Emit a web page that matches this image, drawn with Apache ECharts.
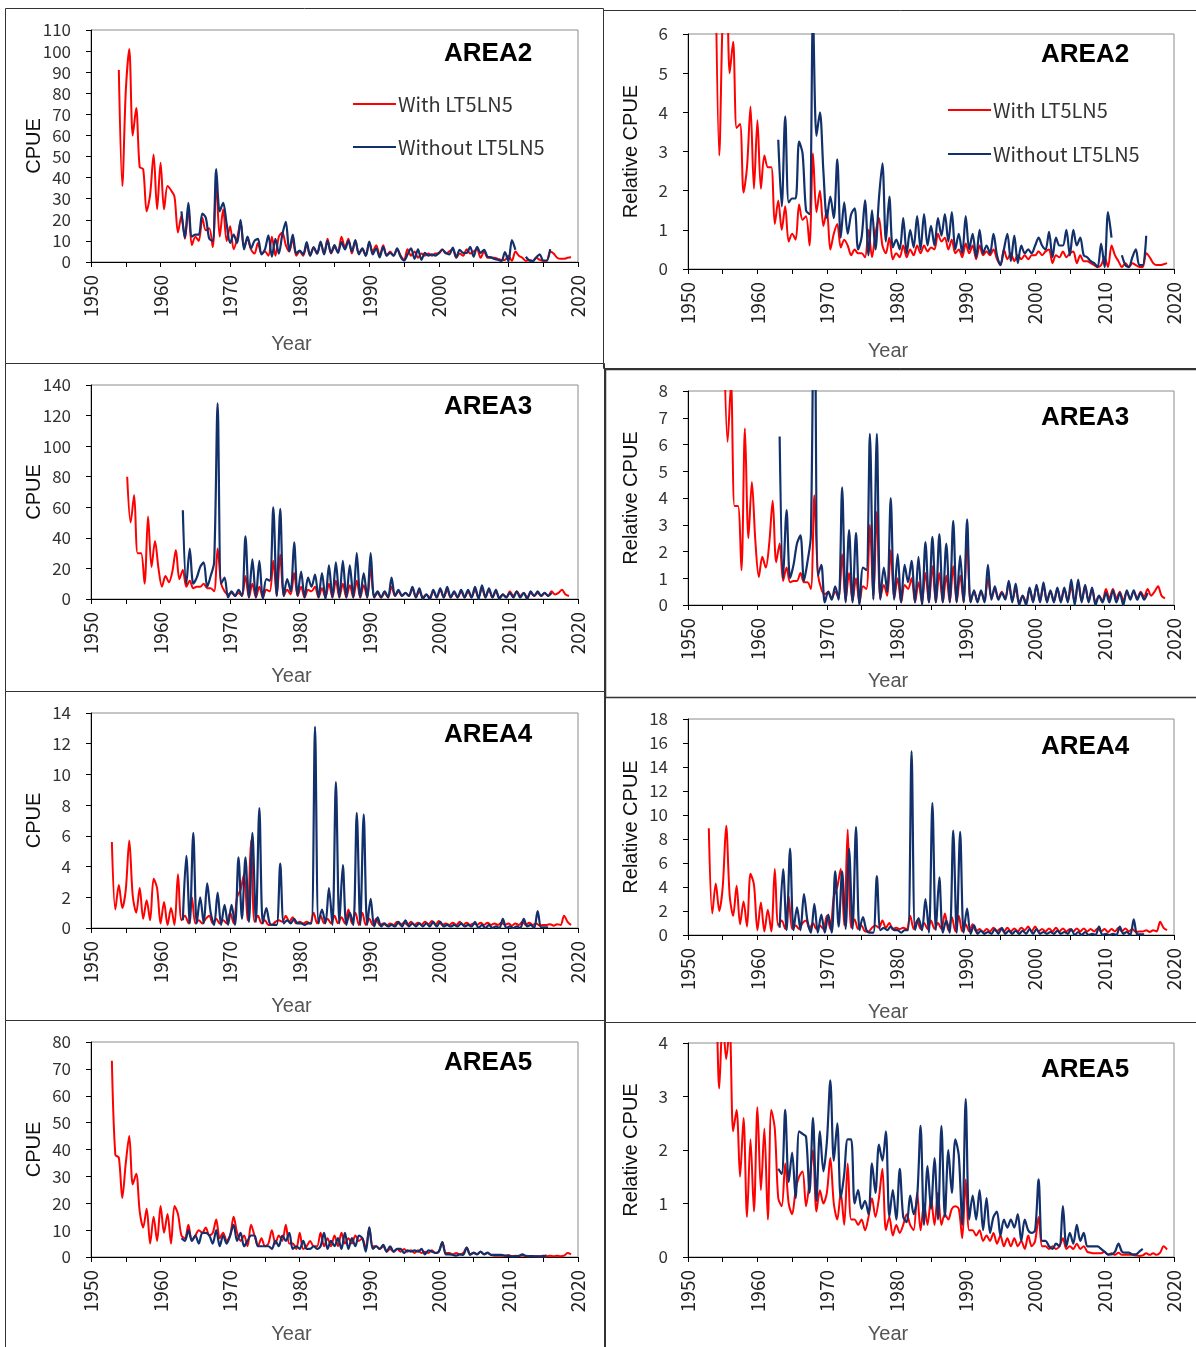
<!DOCTYPE html>
<html>
<head>
<meta charset="utf-8">
<script src="https://cdn.jsdelivr.net/npm/echarts@6/dist/echarts.min.js"></script>
<style>
html,body{margin:0;padding:0;background:#fff;}
#chart{width:1196px;height:1347px;}
</style>
</head>
<body>
<div id="chart"></div>
<script>
// ---------------- DATA (half-year steps; each array starts at its *Start year) ----------------
const seriesNames = ['With LT5LN5', 'Without LT5LN5'];
const xTickLabels = [1950, 1960, 1970, 1980, 1990, 2000, 2010, 2020];
const STEP = 0.5;

// AREA2 CPUE
const a2CpueRedStart = 1954;
const a2CpueRed = [
  91,36, 81,101, 60,73, 45,44, 24,32,          // 1954-1958
  51,25, 47,25, 36,34, 31,14, 22,11,           // 1959-1963
  25,8, 12,10, 21,15, 16,7, 37,12,             // 1964-1968
  25,10, 17,6, 11,19, 7,11, 6,4,               // 1969-1973
  9,4, 5,3, 12,3, 12,14, 8,5,                  // 1974-1978
  11,3, 5,3, 8,3, 7,4, 9,4,                    // 1979-1983
  11,4, 7,5, 12,7, 11,4, 10,4,                 // 1984-1988
  6,3, 9,5, 8,3, 8,3, 5,3,                     // 1989-1993
  6,3, 1,6, 3,5, 2,4, 3,4,                     // 1994-1998
  3,4, 4,6, 4,5, 6,2, 4,3,                     // 1999-2003
  6,4, 5,6, 2,5, 2,2, 2,1.5,                   // 2004-2008
  1,1, 3,0.5, 5,3, 2,0.5, 1,0.5,               // 2009-2013
  2,1, 0.5,0.5, 5,4, 2,1.5, 1.5,2,             // 2014-2018
  2.2                                          // 2019
];
const a2CpueBlueStart = 1963;
const a2CpueBlue = [
  24,11.5, 28,12, 13,13, 23,21, 11,10,         // 1963-1967
  44,24, 28,18, 9,13, 9,20, 6,12,              // 1968-1972
  6.5,10, 11,3.6, 6,12.6, 2.5,11, 4,13,        // 1973-1977
  19,5, 13,4, 5.4,3.6, 9.4,3, 7,4,             // 1978-1982
  9.7,3.6, 10,4.3, 8,4.3, 9.4,6, 10,5,         // 1983-1987
  10.4,3.6, 6.5,3, 9.7,3.6, 6.5,2.2, 7.2,3,    // 1988-1992
  4.3,3, 6.5,2.5, 0.7,3.6, 6.5,1.5, 6,1,       // 1993-1997
  4.3,3, 3.6,3, 4.3,5.8, 4.3,3.6, 6.8,2.2,     // 1998-2002
  5.8,4.3, 4.3,7.2, 2.5,7.2, 4.3,5.8, 2.5,2.2, // 2003-2007
  1.4,1.1, 0.4,4.7, 0.4,10.4, 5.8,null, null,2.5, // 2008-2012
  0.7,0.4, 2.2,3.6, 0.7,0.7, 6.1               // 2013-2016
];

// AREA2 relative CPUE
const a2RelRedStart = 1954;
const a2RelRed = [
  7.2,2.9, 6.5,8.0, 5.0,5.8, 3.6,3.7, 1.95,2.6,        // 1954-1958
  4.15,2.05, 3.8,2.05, 2.9,2.6, 2.6,1.15, 1.75,1.0,    // 1959-1963
  1.6,0.7, 0.9,0.75, 1.65,1.25, 1.35,0.6, 2.95,1.45,   // 1964-1968
  2.0,1.1, 1.5,0.5, 0.9,1.15, 0.55,0.75, 0.6,0.35,     // 1969-1973
  0.5,0.4, 0.4,0.3, 1.0,0.3, 0.9,1.3, 0.6,0.4,         // 1974-1978
  0.8,0.25, 0.4,0.3, 0.6,0.3, 0.5,0.35, 0.6,0.4,       // 1979-1983
  0.6,0.45, 0.55,0.5, 0.9,0.7, 0.8,0.5, 0.75,0.4,      // 1984-1988
  0.5,0.3, 0.65,0.4, 0.6,0.25, 0.6,0.35, 0.45,0.35,    // 1989-1993
  0.5,0.25, 0.1,0.5, 0.25,0.4, 0.2,0.35, 0.25,0.35,    // 1994-1998
  0.25,0.35, 0.35,0.45, 0.35,0.45, 0.5,0.15, 0.35,0.3, // 1999-2003
  0.45,0.3, 0.4,0.45, 0.15,0.35, 0.2,0.2, 0.15,0.1,    // 2004-2008
  0.05,0.1, 0.3,0.05, 0.6,0.35, 0.2,0.05, 0.15,0.05,   // 2009-2013
  0.15,0.1, 0.05,0.05, 0.4,0.3, 0.15,0.1, 0.1,0.12,    // 2014-2018
  0.15                                                 // 2019
];
const a2RelBlueStart = 1963;
const a2RelBlue = [
  3.3,1.6, 3.9,1.7, 1.8,1.8, 3.25,2.95, 1.5,1.4,       // 1963-1967
  6.5,3.4, 4.0,2.5, 1.3,1.85, 1.3,2.8, 0.8,1.7,        // 1968-1972
  0.9,1.4, 1.55,0.5, 0.8,1.75, 0.35,1.5, 0.5,1.8,      // 1973-1977
  2.7,0.7, 1.85,0.55, 0.75,0.5, 1.3,0.4, 1.0,0.55,     // 1978-1982
  1.35,0.5, 1.4,0.6, 1.1,0.6, 1.3,0.85, 1.4,0.7,       // 1983-1987
  1.45,0.5, 0.9,0.4, 1.35,0.5, 0.9,0.3, 1.0,0.4,       // 1988-1992
  0.6,0.4, 0.9,0.35, 0.1,0.5, 0.9,0.2, 0.85,0.15,      // 1993-1997
  0.6,0.4, 0.5,0.4, 0.6,0.8, 0.6,0.5, 0.95,0.3,        // 1998-2002
  0.8,0.6, 0.6,1.0, 0.35,1.0, 0.6,0.8, 0.35,0.3,       // 2003-2007
  0.2,0.15, 0.05,0.65, 0.05,1.45, 0.8,null, null,0.35, // 2008-2012
  0.1,0.05, 0.3,0.5, 0.1,0.1, 0.85                     // 2013-2016
];

// AREA3 CPUE
const a3CpueRedStart = 1955.2;
const a3CpueRed = [
  80,50, 68,30, 30,10, 54,21, 38,20,       // 1955-1959
  8,15, 11,18, 32,13, 19,8, 12,7,          // 1960-1964
  8,8, 10,7, 7,5, 33,10, 5,3,              // 1965-1969
  4,2, 4,2, 15,1, 10,1, 8,1,               // 1970-1974
  6,5, 25,2, 29,2, 6,3, 17,2,              // 1975-1979
  8,1, 6,5, 8,1, 7,1, 10,1,                // 1980-1984
  12,1, 10,1, 9,1, 12,1, 9,1,              // 1985-1989
  20,1, 4,1, 4,1, 8,2, 5,2,                // 1990-1994
  4,2, 7,1, 5,1, 3,1, 5,1,                 // 1995-1999
  6,1, 6,1, 4,1, 5,1, 5,1,                 // 2000-2004
  6,1, 7,1, 6,1, 5,1, 3,1,                 // 2005-2009
  5,2, 5,2, 4,1, 4,2, 4,2,                 // 2010-2014
  4,2, 5,3, 4,6, 3,2                       // 2015-2018
];
const a3CpueBlueStart = 1963.2;
const a3CpueBlue = [
  58,10, 33,10, 14,21, 24,8, 15,24,        // 1963-1967
  128,10, 14,1, 5,2, 6,2, 41,1,            // 1968-1972
  26,1, 25,0, 13,12, 60,2, 59,2,           // 1973-1977
  13,5, 37,2, 18,1, 14,8, 16,1,            // 1978-1982
  17,0, 22,1, 24,1, 25,1, 22,1,            // 1983-1987
  30,1, 17,1, 30,1, 5,1, 5,1,              // 1988-1992
  14,2, 6,2, 4,2, 8,1, 7,0,                // 1993-1997
  3,0, 6,1, 7,1, 8,1, 5,1,                 // 1998-2002
  6,1, 6,1, 8,0, 9,1, 7,1,                 // 2003-2007
  6,0, 3,1, 4,1, 5,1, 4,0,                 // 2008-2012
  5,2, 5,2, 4,2, 4                         // 2013-2016
];

// AREA3 relative CPUE
const a3RelRedStart = 1955.2;
const a3RelRed = [
  9.8,6.1, 8.3,3.7, 3.7,1.3, 6.6,2.5, 4.6,2.4,         // 1955-1959
  1.05,1.8, 1.4,2.3, 3.9,1.6, 2.3,0.9, 1.4,0.85,       // 1960-1964
  0.9,0.9, 1.2,0.85, 0.85,0.6, 4.1,1.2, 0.6,0.4,       // 1965-1969
  0.5,0.25, 0.5,0.25, 1.9,0.15, 1.2,0.15, 1.0,0.1,     // 1970-1974
  0.7,0.6, 3.0,0.25, 3.5,0.25, 0.75,0.35, 2.05,0.25,   // 1975-1979
  1.0,0.1, 0.75,0.6, 1.0,0.1, 0.85,0.1, 1.2,0.1,       // 1980-1984
  1.45,0.1, 1.2,0.1, 1.1,0.1, 1.45,0.1, 1.1,0.1,       // 1985-1989
  2.5,0.1, 0.5,0.15, 0.5,0.15, 1.0,0.25, 0.6,0.25,     // 1990-1994
  0.5,0.25, 0.85,0.15, 0.6,0.1, 0.35,0.1, 0.6,0.15,    // 1995-1999
  0.7,0.15, 0.7,0.15, 0.5,0.15, 0.6,0.15, 0.6,0.15,    // 2000-2004
  0.7,0.1, 0.85,0.15, 0.7,0.15, 0.6,0.1, 0.35,0.15,    // 2005-2009
  0.6,0.25, 0.6,0.25, 0.5,0.15, 0.5,0.25, 0.5,0.25,    // 2010-2014
  0.5,0.3, 0.6,0.35, 0.5,0.7, 0.35,0.25                // 2015-2018
];
const a3RelBlueStart = 1963.2;
const a3RelBlue = [
  6.3,1.0, 3.55,1.0, 1.5,2.3, 2.6,0.9, 1.6,2.6,        // 1963-1967
  13.8,1.1, 1.5,0.1, 0.5,0.2, 0.7,0.2, 4.4,0.1,        // 1968-1972
  2.8,0.1, 2.7,0.0, 1.4,1.3, 6.4,0.2, 6.4,0.2,         // 1973-1977
  1.4,0.5, 4.0,0.2, 1.9,0.1, 1.5,0.85, 1.65,0.1,       // 1978-1982
  1.8,0.0, 2.35,0.1, 2.55,0.1, 2.65,0.1, 2.3,0.1,      // 1983-1987
  3.15,0.1, 1.85,0.1, 3.2,0.1, 0.55,0.1, 0.55,0.1,     // 1988-1992
  1.5,0.2, 0.7,0.2, 0.45,0.2, 0.9,0.1, 0.8,0.0,        // 1993-1997
  0.35,0.0, 0.65,0.1, 0.75,0.1, 0.85,0.1, 0.55,0.1,    // 1998-2002
  0.65,0.1, 0.65,0.1, 0.95,0.0, 0.95,0.1, 0.75,0.1,    // 2003-2007
  0.65,0.0, 0.35,0.1, 0.45,0.1, 0.55,0.1, 0.45,0.0,    // 2008-2012
  0.55,0.2, 0.55,0.2, 0.45,0.2, 0.45                   // 2013-2016
];

// AREA4 CPUE
const a4CpueRedStart = 1953;
const a4CpueRed = [
  5.6,1.2, 2.8,1.3, 2.5,5.7, 2.1,1.0, 2.6,0.6,         // 1953-1957
  1.8,0.5, 3.2,2.6, 0.3,1.7, 0.2,1.3, 0.2,3.5,         // 1958-1962
  0.5,0.8, 0.3,2.0, 0.3,0.5, 0.3,0.6, 0.8,0.3,         // 1963-1967
  0.6,0.3, 0.5,0.3, 1.0,0.3, 2.0,2.5, 3.5,0.5,         // 1968-1972
  5.7,0.4, 0.8,0.3, 0.5,0.2, 0.2,0.4, 0.5,0.4,         // 1973-1977
  0.8,0.4, 0.7,0.3, 0.4,0.3, 0.4,0.3, 1.0,0.3,         // 1978-1982
  0.8,0.3, 0.6,0.3, 0.8,0.3, 0.7,0.3, 1.2,0.3,         // 1983-1987
  1.0,0.2, 1.0,0.2, 0.6,0.2, 0.6,0.2, 0.3,0.15,        // 1988-1992
  0.3,0.2, 0.4,0.2, 0.35,0.2, 0.4,0.2, 0.35,0.2,       // 1993-1997
  0.4,0.25, 0.45,0.2, 0.45,0.2, 0.3,0.2, 0.35,0.2,     // 1998-2002
  0.4,0.2, 0.35,0.2, 0.3,0.2, 0.35,0.2, 0.35,0.2,      // 2003-2007
  0.3,0.2, 0.35,0.2, 0.3,0.15, 0.3,0.2, 0.4,0.2,       // 2008-2012
  0.35,0.2, 0.3,0.15, 0.2,0.2, 0.25,0.15, 0.25,0.2,    // 2013-2017
  0.8,0.4, 0.2                                         // 2018-2019
];
const a4CpueBlueStart = 1963.2;
const a4CpueBlue = [
  0.5,4.7, 0.3,6.2, 0.3,2.0, 0.3,2.9, 1.0,0.2,         // 1963-1967
  2.3,0.2, 1.5,0.2, 1.5,0.2, 4.6,0.6, 4.6,0.4,         // 1968-1972
  6.2,0.4, 7.8,0.3, 1.3,0.3, 0.2,0.2, 4.2,0.3,         // 1973-1977
  0.5,0.3, 0.6,0.3, 0.3,0.2, 0.3,0.3, 13.1,0.3,        // 1978-1982
  1.2,0.3, 2.6,0.2, 9.5,0.3, 4.1,0.2, 1.0,0.2,         // 1983-1987
  7.5,0.2, 7.4,0.2, 1.9,0.1, 0.7,0.1, 0.3,0.1,         // 1988-1992
  0.2,0.1, 0.4,0.1, 0.5,0.1, 0.3,0.1, 0.3,0.1,         // 1993-1997
  0.3,0.1, 0.4,0.1, 0.4,0.1, 0.2,0.1, 0.2,0.1,         // 1998-2002
  0.3,0.1, 0.2,0.1, 0.4,0.0, 0.2,0.0, 0.2,0.0,         // 2003-2007
  0.1,0.0, 0.6,0.0, 0.1,0.0, 0.1,0.0, 0.6,0.1,         // 2008-2012
  0.2,0.0, 1.1,0.05, 0.05,0.05                         // 2013-2015
];

// AREA4 relative CPUE
const a4RelRedStart = 1953;
const a4RelRed = [
  8.9,1.8, 4.3,2.0, 4.0,9.1, 3.3,1.6, 4.1,0.9,         // 1953-1957
  2.8,0.7, 5.1,4.2, 0.4,2.7, 0.3,2.1, 0.3,5.5,         // 1958-1962
  0.8,1.2, 0.5,3.2, 0.5,0.8, 0.5,1.0, 1.2,0.5,         // 1963-1967
  1.0,0.5, 0.8,0.5, 1.6,0.5, 3.2,4.0, 5.5,0.8,         // 1968-1972
  8.8,0.6, 1.3,0.5, 0.8,0.3, 0.3,0.6, 0.8,0.6,         // 1973-1977
  1.2,0.6, 1.0,0.5, 0.6,0.5, 0.6,0.5, 1.6,0.5,         // 1978-1982
  1.2,0.5, 1.0,0.5, 1.2,0.5, 1.0,0.5, 1.8,0.4,         // 1983-1987
  1.5,0.3, 1.6,0.3, 0.9,0.3, 0.9,0.3, 0.5,0.25,        // 1988-1992
  0.5,0.3, 0.6,0.3, 0.55,0.3, 0.6,0.3, 0.55,0.3,       // 1993-1997
  0.6,0.4, 0.7,0.3, 0.7,0.3, 0.5,0.3, 0.55,0.3,        // 1998-2002
  0.6,0.3, 0.55,0.3, 0.5,0.3, 0.55,0.3, 0.55,0.3,      // 2003-2007
  0.5,0.3, 0.55,0.3, 0.5,0.25, 0.5,0.3, 0.6,0.3,       // 2008-2012
  0.55,0.3, 0.5,0.25, 0.3,0.3, 0.4,0.25, 0.4,0.3,      // 2013-2017
  1.1,0.6, 0.4                                         // 2018-2019
];
const a4RelBlueStart = 1963.2;
const a4RelBlue = [
  0.6,5.5, 0.4,7.2, 0.4,2.3, 0.4,3.4, 1.2,0.2,         // 1963-1967
  2.6,0.2, 1.7,0.2, 1.7,0.2, 5.3,0.7, 5.3,0.5,         // 1968-1972
  7.2,0.5, 9.0,0.4, 1.5,0.4, 0.2,0.2, 4.9,0.4,         // 1973-1977
  0.6,0.4, 0.7,0.4, 0.4,0.2, 0.4,0.4, 15.3,0.4,        // 1978-1982
  1.4,0.4, 3.0,0.2, 11.0,0.4, 4.8,0.2, 1.2,0.2,        // 1983-1987
  8.7,0.2, 8.6,0.2, 2.2,0.1, 0.8,0.1, 0.35,0.1,        // 1988-1992
  0.25,0.1, 0.5,0.1, 0.6,0.1, 0.35,0.1, 0.35,0.1,      // 1993-1997
  0.35,0.1, 0.5,0.1, 0.5,0.1, 0.25,0.1, 0.25,0.1,      // 1998-2002
  0.35,0.1, 0.25,0.1, 0.5,0.0, 0.25,0.0, 0.25,0.0,     // 2003-2007
  0.1,0.0, 0.7,0.0, 0.1,0.0, 0.1,0.0, 0.7,0.1,         // 2008-2012
  0.25,0.0, 1.3,0.05, 0.05,0.05                        // 2013-2015
];

// AREA5 CPUE
const a5CpueRedStart = 1953;
const a5CpueRed = [
  73,38, 37,22, 35,45, 27,31, 17,11,       // 1953-1957
  18,5, 15,6, 19,9, 16,5, 19,16,           // 1958-1962
  8,7, 12,6, 8,10, 9,11, 8,9,              // 1963-1967
  14,7, 9,6, 8,15, 9,6, 8,4,               // 1968-1972
  12,8, 4,7, 4,5, 10,5, 8,6,               // 1973-1977
  12,5, 5,3, 9,3, 4,6, 4,4,                // 1978-1982
  9,4, 7,4, 8,4, 9,5, 7,5,                 // 1983-1987
  8,6, 7,3, 11,4, 4,3, 4,2,                // 1988-1992
  3,2, 3,2, 3,2, 2.5,1.5, 2.5,1.5,         // 1993-1997
  2,1.5, 2.5,1.5, 2,5.5, 1.5,1.5, 1,1.5,   // 1998-2002
  1,1.5, 3.5,1, 1.5,1, 2,1, 1.5,0.8,       // 2003-2007
  0.5,0.5, 0.5,0.5, 0.7,0.3, 0.5,0.3, 0.6,0.3, // 2008-2012
  0.3,0.3, 0.3,0.2, 0.2,0.2, 0.5,0.3, 0.5,0.3, // 2013-2017
  0.5,1.5, 1.0                             // 2018-2019
];
const a5CpueBlueStart = 1963;
const a5CpueBlue = [
  7,6, 10,6, 8,5, 9,9, 8,5,                // 1963-1967
  10,4, 8,5, 8,12, 6,9, 4,6,               // 1968-1972
  8,8, 4,4, 4,4, 3,6, 4,8,                 // 1973-1977
  6,9, 3,4, 3,6, 3,3, 4,3,                 // 1978-1982
  4,9, 3,6, 4,7, 3,9, 3,7,                 // 1983-1987
  4,8, 7,2, 11,3, 4,3, 4.5,2,              // 1988-1992
  4,2, 3,3, 1.5,2.5, 2,2.5, 2,3,           // 1993-1997
  1,2.5, 2,1.5, 2,5.5, 1,1, 0.8,0.5,       // 1998-2002
  1,0.8, 3.5,0.8, 1.6,1, 2,1, 1.6,0.8,     // 2003-2007
  0.8,0.8, 0.8,0.5, 0.4,0.2, 0.2,0.4, 1,0.4, // 2008-2012
  0.3,0.3, 0.2,0.2, 0.4,0.5                // 2013-2015
];

// AREA5 relative CPUE
const a5RelRedStart = 1953;
const a5RelRed = [
  10.4,5.4, 5.0,3.15, 4.5,3.7, 4.3,2.35, 2.75,1.5,     // 1953-1957
  2.6,0.75, 2.2,0.85, 2.8,1.25, 2.4,0.7, 2.75,2.4,     // 1958-1962
  1.1,0.95, 1.75,1.0, 0.8,1.25, 1.5,1.6, 0.95,1.4,     // 1963-1967
  2.0,0.85, 1.25,1.0, 1.2,1.85, 1.0,0.7, 1.2,0.6,      // 1968-1972
  1.75,0.7, 0.7,0.6, 0.7,0.5, 0.75,1.1, 0.75,1.1,      // 1973-1977
  1.65,0.5, 0.75,0.4, 0.6,0.45, 0.6,0.8, 0.6,0.5,      // 1978-1982
  1.2,0.5, 1.0,0.6, 1.1,0.6, 1.2,0.6, 0.8,0.7,         // 1983-1987
  0.9,0.95, 0.9,0.35, 1.45,0.5, 0.5,0.4, 0.5,0.3,      // 1988-1992
  0.4,0.3, 0.45,0.25, 0.4,0.2, 0.35,0.2, 0.35,0.2,     // 1993-1997
  0.3,0.15, 0.4,0.2, 0.3,0.75, 0.2,0.2, 0.15,0.2,      // 1998-2002
  0.15,0.2, 0.35,0.15, 0.2,0.15, 0.25,0.15, 0.2,0.1,   // 2003-2007
  0.08,0.07, 0.07,0.07, 0.1,0.04, 0.07,0.04, 0.08,0.04, // 2008-2012
  0.04,0.04, 0.04,0.03, 0.02,0.03, 0.07,0.04, 0.07,0.04, // 2013-2017
  0.08,0.2, 0.14                                       // 2018-2019
];
const a5RelBlueStart = 1963;
const a5RelBlue = [
  1.65,1.55, 2.75,1.4, 1.95,1.1, 2.35,2.3, 2.25,1.2,   // 1963-1967
  2.6,1.05, 2.35,1.6, 2.15,3.3, 1.8,2.5, 1.1,1.55,     // 1968-1972
  2.2,2.2, 1.0,1.25, 0.9,1.05, 0.8,1.75, 1.2,2.1,      // 1973-1977
  1.8,2.35, 0.75,1.25, 0.7,1.65, 0.75,0.65, 1.15,0.8,  // 1978-1982
  1.1,2.45, 0.6,1.7, 0.9,1.85, 0.7,2.45, 0.75,2.0,     // 1983-1987
  1.2,2.2, 1.9,0.6, 2.95,0.7, 1.15,0.7, 1.25,0.5,      // 1988-1992
  1.1,0.45, 0.75,0.85, 0.4,0.7, 0.55,0.7, 0.55,0.8,    // 1993-1997
  0.3,0.7, 0.5,0.45, 0.5,1.45, 0.3,0.3, 0.2,0.15,      // 1998-2002
  0.25,0.2, 0.95,0.2, 0.45,0.25, 0.6,0.3, 0.45,0.2,    // 2003-2007
  0.2,0.2, 0.2,0.15, 0.1,0.05, 0.05,0.1, 0.25,0.1,     // 2008-2012
  0.08,0.08, 0.05,0.05, 0.1,0.15                       // 2013-2015
];

// ---------------- LAYOUT ----------------
const FONT_NUM = '"Noto Sans CJK JP", "Noto Sans", sans-serif';
const FONT_SANS = '"Liberation Sans", Arial, sans-serif';
const RED = '#ff0000';
const BLUE = '#12306b';

function toPairs(start, vals) {
  return vals.map((v, i) => [start + i * STEP, v]);
}

const panels = [
  {title:'AREA2', yName:'CPUE',          yMax:110, yInt:10, grid:{left:91,  top:30,   width:487, height:232}, titlePos:{left:444,  top:41},   nameGap:72,
   red:toPairs(a2CpueRedStart, a2CpueRed), blue:toPairs(a2CpueBlueStart, a2CpueBlue)},
  {title:'AREA2', yName:'Relative CPUE', yMax:6,   yInt:1,  grid:{left:688, top:34,   width:486, height:235}, titlePos:{left:1041, top:42},   nameGap:72,
   red:toPairs(a2RelRedStart, a2RelRed), blue:toPairs(a2RelBlueStart, a2RelBlue)},
  {title:'AREA3', yName:'CPUE',          yMax:140, yInt:20, grid:{left:91,  top:385,  width:487, height:214}, titlePos:{left:444,  top:394},  nameGap:67,
   red:toPairs(a3CpueRedStart, a3CpueRed), blue:toPairs(a3CpueBlueStart, a3CpueBlue)},
  {title:'AREA3', yName:'Relative CPUE', yMax:8,   yInt:1,  grid:{left:688, top:391,  width:486, height:214}, titlePos:{left:1041, top:405},  nameGap:66,
   red:toPairs(a3RelRedStart, a3RelRed), blue:toPairs(a3RelBlueStart, a3RelBlue)},
  {title:'AREA4', yName:'CPUE',          yMax:14,  yInt:2,  grid:{left:91,  top:713,  width:487, height:215}, titlePos:{left:444,  top:722},  nameGap:68,
   red:toPairs(a4CpueRedStart, a4CpueRed), blue:toPairs(a4CpueBlueStart, a4CpueBlue)},
  {title:'AREA4', yName:'Relative CPUE', yMax:18,  yInt:2,  grid:{left:688, top:719,  width:486, height:216}, titlePos:{left:1041, top:734},  nameGap:67,
   red:toPairs(a4RelRedStart, a4RelRed), blue:toPairs(a4RelBlueStart, a4RelBlue)},
  {title:'AREA5', yName:'CPUE',          yMax:80,  yInt:10, grid:{left:91,  top:1042, width:487, height:215}, titlePos:{left:444,  top:1050}, nameGap:67,
   red:toPairs(a5CpueRedStart, a5CpueRed), blue:toPairs(a5CpueBlueStart, a5CpueBlue)},
  {title:'AREA5', yName:'Relative CPUE', yMax:4,   yInt:1,  grid:{left:688, top:1043, width:486, height:214}, titlePos:{left:1041, top:1057}, nameGap:67,
   red:toPairs(a5RelRedStart, a5RelRed), blue:toPairs(a5RelBlueStart, a5RelBlue)}
];

const grids = [], xAxes = [], yAxes = [], titles = [], series = [];
panels.forEach((p, i) => {
  grids.push(Object.assign({show:true, borderColor:'#8c8c8c', borderWidth:1, backgroundColor:'transparent'}, p.grid));
  xAxes.push({
    gridIndex:i, type:'value', min:1950, max:2020, interval:5,
    axisLine:{show:true, onZero:false, lineStyle:{color:'#000', width:1}},
    axisTick:{show:true, length:5, lineStyle:{color:'#000'}},
    axisLabel:{rotate:90, fontSize:19, color:'#222', fontFamily:FONT_NUM, margin:13,
      formatter: v => xTickLabels.indexOf(v) >= 0 ? String(v) : ''},
    splitLine:{show:false},
    name:'Year', nameLocation:'middle', nameGap:p.nameGap, nameMoveOverlap:false,
    nameTextStyle:{fontSize:20, color:'#555', fontFamily:FONT_SANS, padding:[0, 86, 0, 0]}
  });
  yAxes.push({
    gridIndex:i, type:'value', min:0, max:p.yMax, interval:p.yInt,
    axisLine:{show:true, lineStyle:{color:'#000', width:1}},
    axisTick:{show:true, length:5, lineStyle:{color:'#000'}},
    axisLabel:{fontSize:17, color:'#333', fontFamily:FONT_NUM, margin:20},
    splitLine:{show:false},
    name:p.yName, nameLocation:'middle', nameGap:47, nameRotate:90, nameMoveOverlap:false,
    nameTextStyle:{fontSize:20, color:'#111', fontFamily:FONT_SANS}
  });
  titles.push({text:p.title, left:p.titlePos.left, top:p.titlePos.top, padding:0,
    textStyle:{fontSize:26, fontWeight:'bold', color:'#000', fontFamily:FONT_SANS}});
  series.push({name:seriesNames[0], type:'line', xAxisIndex:i, yAxisIndex:i, data:p.red,
    symbol:'none', smooth:0.3, clip:true, lineStyle:{color:RED, width:2}, itemStyle:{color:RED}, z:2});
  series.push({name:seriesNames[1], type:'line', xAxisIndex:i, yAxisIndex:i, data:p.blue,
    symbol:'none', smooth:0.3, clip:true, lineStyle:{color:BLUE, width:2.2}, itemStyle:{color:BLUE}, z:3});
});

const legendCommon = {orient:'vertical', itemWidth:43, itemHeight:14, padding:0, selectedMode:false,
  itemStyle:{opacity:0}, lineStyle:{width:2},
  textStyle:{fontSize:20, color:'#333', fontFamily:FONT_NUM, padding:[0,0,0,-3]}, data:seriesNames};
const legends = [
  Object.assign({left:352, top:94, itemGap:23}, legendCommon),
  Object.assign({left:947, top:100, itemGap:24}, legendCommon)
];

function box(x, y, w, h, lw) {
  return {type:'rect', silent:true, z:-1, shape:{x:x + 0.5, y:y + 0.5, width:w, height:h},
    style:{fill:'none', stroke:'#333', lineWidth:lw || 1}};
}
const graphics = [
  box(5, 8, 598, 355), box(5, 363, 599, 328), box(5, 691, 599, 329), box(5, 1020, 599, 340),
  box(603, 10, 620, 358), box(605, 369, 620, 328, 1.5), box(605, 697, 620, 325), box(605, 1022, 620, 340)
];

const chart = echarts.init(document.getElementById('chart'), null, {renderer:'canvas'});
chart.setOption({
  animation:false,
  backgroundColor:'#fff',
  title:titles,
  legend:legends,
  grid:grids,
  xAxis:xAxes,
  yAxis:yAxes,
  series:series,
  graphic:graphics
});
</script>
</body>
</html>
